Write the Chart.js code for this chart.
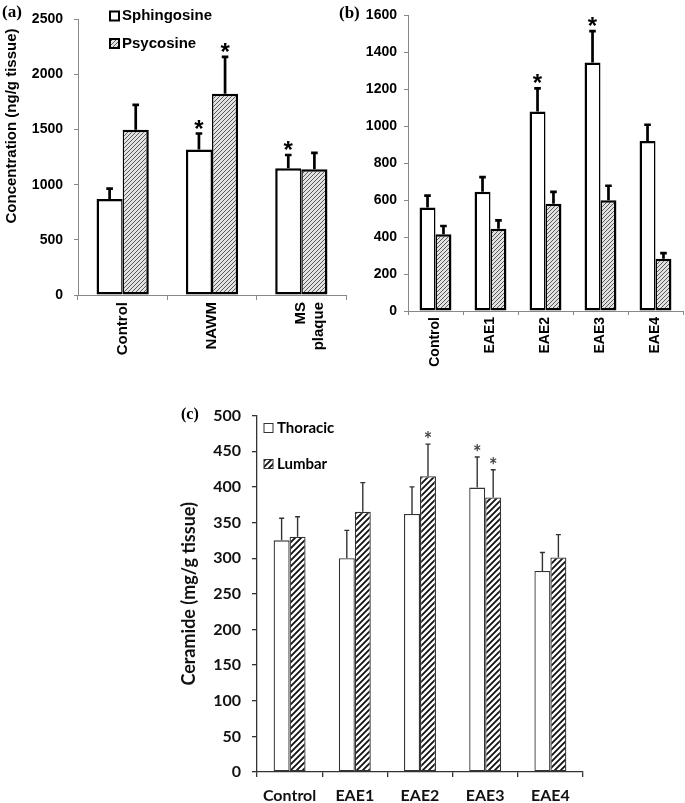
<!DOCTYPE html>
<html>
<head>
<meta charset="utf-8">
<script src="https://cdn.jsdelivr.net/npm/chart.js@4.4.1/dist/chart.umd.min.js"></script>
<style>
  body { margin: 0; background: #fff; width: 685px; height: 803px; position: relative; overflow: hidden; }
  canvas { position: absolute; }
  .panel { position: absolute; font: bold 17px "Liberation Serif", serif; color: #000; line-height: 17px; }
</style>
</head>
<body>
<canvas id="chartA" width="350" height="380" style="left:0;top:0"></canvas>
<canvas id="chartB" width="340" height="380" style="left:345px;top:0"></canvas>
<canvas id="chartC" width="450" height="408" style="left:150px;top:395px"></canvas>
<div class="panel" style="left:2px;top:3px">(a)</div>
<div class="panel" style="left:339px;top:4px">(b)</div>
<div class="panel" style="left:181px;top:405px;font-size:16px">(c)</div>
<script>
(function() {
    "use strict";

    //* panel (a) - human tissue
    var catsA = ['Control', 'NAWM', ['MS', 'plaque']];
    var sphingoA = [870, 1320, 1150];
    var sphingoErrA = [95, 145, 120];
    var sphingoStarA = [false, true, true];
    var psycoA = [1500, 1825, 1140];
    var psycoErrA = [225, 335, 150];
    var psycoStarA = [false, true, false];
    var ticksA = [0, 500, 1000, 1500, 2000, 2500];

    //* panel (b) - EAE spinal cord
    var catsB = ['Control', 'EAE1', 'EAE2', 'EAE3', 'EAE4'];
    var sphingoB = [560, 645, 1080, 1345, 920];
    var sphingoErrB = [65, 80, 125, 170, 88];
    var sphingoStarB = [false, false, true, true, false];
    var psycoB = [415, 445, 580, 600, 283];
    var psycoErrB = [45, 45, 65, 78, 30];
    var psycoStarB = [false, false, false, false, false];
    var ticksB = [0, 200, 400, 600, 800, 1000, 1200, 1400, 1600];

    //* panel (c) - ceramide
    var catsC = ['Control', 'EAE1', 'EAE2', 'EAE3', 'EAE4'];
    var thoracicC = [325, 300, 362, 399, 282];
    var thoracicErrC = [31, 39, 38, 43, 26];
    var thoracicStarC = [false, false, false, true, false];
    var lumbarC = [330, 365, 415, 385, 301];
    var lumbarErrC = [28, 41, 45, 39, 32];
    var lumbarStarC = [false, false, true, true, false];
    var ticksC = [0, 50, 100, 150, 200, 250, 300, 350, 400, 450, 500];

    var ARIAL = "'Liberation Sans', Arial, sans-serif";
    var CALIBRI = "Lato, 'Noto Sans', sans-serif";

    function hatch(canvasId, size, bg, fg, lw) {
        var tile = document.createElement('canvas');
        tile.width = size; tile.height = size;
        var t = tile.getContext('2d');
        t.fillStyle = bg;
        t.fillRect(0, 0, size, size);
        t.strokeStyle = fg;
        t.lineWidth = lw;
        t.beginPath();
        t.moveTo(0, size); t.lineTo(size, 0);
        t.moveTo(-size / 2, size / 2); t.lineTo(size / 2, -size / 2);
        t.moveTo(size / 2, size * 1.5); t.lineTo(size * 1.5, size / 2);
        t.stroke();
        return document.getElementById(canvasId).getContext('2d').createPattern(tile, 'repeat');
    }

    function plain(v) { return String(v); }

    //* error bars (upper half only) + significance stars
    var errorBars = {
        id: 'errorBars',
        afterDatasetsDraw: function(chart, args, o) {
            var ctx = chart.ctx, y = chart.scales.y;
            chart.data.datasets.forEach(function(ds, i) {
                chart.getDatasetMeta(i).data.forEach(function(bar, j) {
                    var top = y.getPixelForValue(ds.data[j] + ds.errors[j]);
                    ctx.save();
                    ctx.strokeStyle = o.color;
                    ctx.lineWidth = o.width;
                    ctx.beginPath();
                    ctx.moveTo(bar.x, bar.y);
                    ctx.lineTo(bar.x, top);
                    ctx.moveTo(bar.x - o.cap, top);
                    ctx.lineTo(bar.x + o.cap, top);
                    ctx.stroke();
                    if (ds.stars[j]) {
                        ctx.font = o.starFont;
                        ctx.fillStyle = o.starColor;
                        ctx.textAlign = 'center';
                        ctx.textBaseline = 'alphabetic';
                        var m = ctx.measureText('*');
                        var mid = (m.actualBoundingBoxAscent - m.actualBoundingBoxDescent) / 2;
                        ctx.fillText('*', bar.x, top - o.starGap + mid);
                    }
                    ctx.restore();
                });
            });
        }
    };

    //* legend drawn inside the plot area
    var boxLegend = {
        id: 'boxLegend',
        afterDraw: function(chart, args, o) {
            var ctx = chart.ctx;
            chart.data.datasets.forEach(function(ds, i) {
                var cy = o.y + i * o.gap;
                ctx.save();
                ctx.fillStyle = ds.backgroundColor;
                ctx.fillRect(o.x, cy - o.box / 2, o.box, o.box);
                ctx.strokeStyle = o.border;
                ctx.lineWidth = o.lineWidth;
                ctx.strokeRect(o.x, cy - o.box / 2, o.box, o.box);
                ctx.fillStyle = '#000';
                ctx.font = o.font;
                ctx.textBaseline = 'middle';
                ctx.fillText(ds.label, o.x + o.box + o.textGap, cy);
                ctx.restore();
            });
        }
    };

    //* rotated axis title at a free position
    var sideTitle = {
        id: 'sideTitle',
        afterDraw: function(chart, args, o) {
            if (!o.text) return;
            var ctx = chart.ctx;
            ctx.save();
            ctx.translate(o.x, o.y);
            ctx.rotate(-Math.PI / 2);
            ctx.font = o.font;
            ctx.fillStyle = '#000';
            ctx.textAlign = 'center';
            ctx.textBaseline = 'middle';
            ctx.fillText(o.text, 0, 0);
            ctx.restore();
        }
    };

    function axisFont(family, size) {
        return { family: family, size: size, weight: 'bold' };
    }

    /*--------------- Chart (a) ---------------*/
    var hatchA = hatch('chartA', 4, '#e2e2e2', '#585858', 1);
    new Chart(document.getElementById('chartA'), {
        type: 'bar',
        data: {
            labels: catsA,
            datasets: [{
                label: 'Sphingosine', data: sphingoA, errors: sphingoErrA, stars: sphingoStarA,
                backgroundColor: '#fff', borderColor: '#000',
                borderWidth: { top: 2.5, left: 2.5, bottom: 2.5, right: 1.5 }, borderSkipped: false
            }, {
                label: 'Psycosine', data: psycoA, errors: psycoErrA, stars: psycoStarA,
                backgroundColor: hatchA, borderColor: '#000',
                borderWidth: { top: 2.5, left: 1.5, bottom: 2.5, right: 2.5 }, borderSkipped: false
            }]
        },
        options: {
            responsive: false,
            animation: false,
            datasets: { bar: { categoryPercentage: 0.585, barPercentage: 1 } },
            layout: { padding: { top: 8, right: 4, left: 0, bottom: 0 } },
            scales: {
                x: {
                    grid: { drawOnChartArea: false, tickLength: 5, color: '#888', offset: true },
                    border: { color: '#888', width: 1 },
                    ticks: { font: axisFont(ARIAL, 15), color: '#000', minRotation: 90, maxRotation: 90, padding: 2, autoSkip: false },
                    afterFit: function(s) { s.height = 85; }
                },
                y: {
                    min: ticksA[0], max: ticksA[ticksA.length - 1],
                    grid: { drawOnChartArea: false, tickLength: 4, color: '#888' },
                    border: { color: '#888', width: 1 },
                    ticks: { stepSize: ticksA[1] - ticksA[0], callback: plain, font: axisFont(ARIAL, 14), color: '#000', padding: 11 },
                    afterFit: function(s) { s.width = 78; }
                }
            },
            plugins: {
                legend: { display: false },
                tooltip: { enabled: false },
                errorBars: { color: '#000', width: 2.7, cap: 3.3, starFont: 'bold 24px ' + ARIAL, starColor: '#000', starGap: 9 },
                boxLegend: { x: 110, y: 16, gap: 27.5, box: 9, border: '#000', lineWidth: 2, textGap: 3, font: 'bold 15px ' + ARIAL },
                sideTitle: { text: 'Concentration (ng/g tissue)', x: 12, y: 126, font: 'bold 15px ' + ARIAL }
            }
        },
        plugins: [errorBars, boxLegend, sideTitle]
    });

    /*--------------- Chart (b) ---------------*/
    var hatchB = hatch('chartB', 4, '#e2e2e2', '#585858', 1);
    new Chart(document.getElementById('chartB'), {
        type: 'bar',
        data: {
            labels: catsB,
            datasets: [{
                label: 'Sphingosine', data: sphingoB, errors: sphingoErrB, stars: sphingoStarB,
                backgroundColor: '#fff', borderColor: '#000',
                borderWidth: { top: 2.5, left: 2.5, bottom: 2.5, right: 1.5 }, borderSkipped: false
            }, {
                label: 'Psycosine', data: psycoB, errors: psycoErrB, stars: psycoStarB,
                backgroundColor: hatchB, borderColor: '#000',
                borderWidth: { top: 2.5, left: 1.5, bottom: 2.5, right: 2.5 }, borderSkipped: false
            }]
        },
        options: {
            responsive: false,
            animation: false,
            datasets: { bar: { categoryPercentage: 0.58, barPercentage: 1 } },
            layout: { padding: { top: 11, right: 2, left: 0, bottom: 0 } },
            scales: {
                x: {
                    grid: { drawOnChartArea: false, tickLength: 4, color: '#888', offset: true },
                    border: { color: '#888', width: 1 },
                    ticks: { font: axisFont(ARIAL, 14), color: '#000', minRotation: 90, maxRotation: 90, padding: 2, autoSkip: false },
                    afterFit: function(s) { s.height = 69; }
                },
                y: {
                    min: ticksB[0], max: ticksB[ticksB.length - 1],
                    grid: { drawOnChartArea: false, tickLength: 4, color: '#888' },
                    border: { color: '#888', width: 1 },
                    ticks: { stepSize: ticksB[1] - ticksB[0], callback: plain, font: axisFont(ARIAL, 14), color: '#000', padding: 7 },
                    afterFit: function(s) { s.width = 63; }
                }
            },
            plugins: {
                legend: { display: false },
                tooltip: { enabled: false },
                errorBars: { color: '#000', width: 2.7, cap: 3.3, starFont: 'bold 24px ' + ARIAL, starColor: '#000', starGap: 10 }
            }
        },
        plugins: [errorBars]
    });

    /*--------------- Chart (c) ---------------*/
    var hatchC = hatch('chartC', 6, '#fff', '#111', 1.8);
    new Chart(document.getElementById('chartC'), {
        type: 'bar',
        data: {
            labels: catsC,
            datasets: [{
                label: 'Thoracic', data: thoracicC, errors: thoracicErrC, stars: thoracicStarC,
                backgroundColor: '#fff', borderColor: '#333', borderWidth: 1.3, borderSkipped: false
            }, {
                label: 'Lumbar', data: lumbarC, errors: lumbarErrC, stars: lumbarStarC,
                backgroundColor: hatchC, borderColor: '#333', borderWidth: 1.3, borderSkipped: false
            }]
        },
        options: {
            responsive: false,
            animation: false,
            datasets: { bar: { categoryPercentage: 0.49, barPercentage: 1 } },
            layout: { padding: { top: 17, right: 17, left: 0, bottom: 0 } },
            scales: {
                x: {
                    grid: { drawOnChartArea: false, tickLength: 5, color: '#333', offset: true, lineWidth: 1.3 },
                    border: { color: '#333', width: 1.3 },
                    ticks: { font: axisFont(CALIBRI, 16), color: '#111', maxRotation: 0, padding: 9, autoSkip: false },
                    afterFit: function(s) { s.height = 31; }
                },
                y: {
                    min: ticksC[0], max: ticksC[ticksC.length - 1],
                    title: { display: true, text: 'Ceramide (mg/g tissue)', font: axisFont(CALIBRI, 18), color: '#111', padding: { top: 28, bottom: 0 } },
                    grid: { drawOnChartArea: false, tickLength: 5, color: '#333', lineWidth: 1.3 },
                    border: { color: '#333', width: 1.3 },
                    ticks: { stepSize: ticksC[1] - ticksC[0], font: axisFont(CALIBRI, 16), color: '#111', padding: 11 },
                    afterFit: function(s) { s.width = 107; }
                }
            },
            plugins: {
                legend: { display: false },
                tooltip: { enabled: false },
                errorBars: { color: '#333', width: 1.4, cap: 2.5, starFont: 'bold 20px ' + CALIBRI, starColor: '#444', starGap: 9 },
                boxLegend: { x: 114, y: 33, gap: 36, box: 9, border: '#333', lineWidth: 1, textGap: 4, font: 'bold 15px ' + CALIBRI }
            }
        },
        plugins: [errorBars, boxLegend]
    });
})();
</script>
</body>
</html>
